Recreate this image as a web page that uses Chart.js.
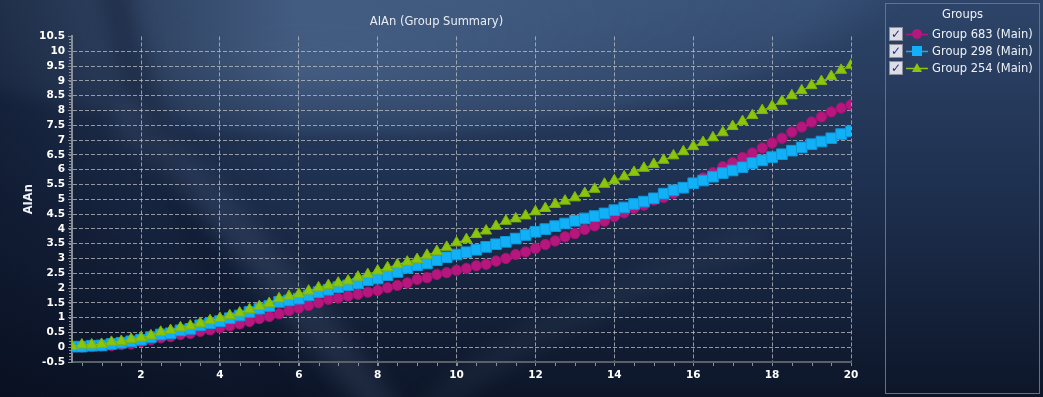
<!DOCTYPE html>
<html>
<head>
<meta charset="utf-8">
<script src="https://cdn.jsdelivr.net/npm/chart.js@4.4.0/dist/chart.umd.min.js"></script>
<style>
html, body { margin:0; padding:0; width:1043px; height:397px; overflow:hidden; background:#16233d; }
#contenedor { position:relative; width:1043px; height:397px; }
#myChart { position:absolute; left:0; top:0; }
#leyenda { position:absolute; left:885px; top:3px; width:153px; height:389px; border:1px solid #6b7079;
  font-family:"DejaVu Sans", sans-serif; font-size:11.5px; color:#eef2f8; }
#leyenda .titulo { text-align:center; padding-top:3px; height:14px; line-height:14px; margin-bottom:4px; }
#leyenda .fila { height:17px; display:flex; align-items:center; }
#leyenda .caja { width:12px; height:12px; margin-left:3px; background:#dcdde6; border:1px solid #8c8e9c;
  color:#262b7e; font-size:12px; font-weight:bold; line-height:12px; text-align:center; }
#leyenda svg { margin-left:3px; }
#leyenda .texto { margin-left:4px; white-space:nowrap; }
</style>
</head>
<body>
<div id="contenedor">
  <canvas id="myChart" width="1043" height="397"></canvas>
  <div id="leyenda">
    <div class="titulo">Groups</div>
    <div id="filas"></div>
  </div>
</div>
<script>
//-----------------DATOS------------------
var xs = [0.25, 0.5, 0.75, 1, 1.25, 1.5, 1.75, 2, 2.25, 2.5, 2.75, 3, 3.25, 3.5, 3.75, 4,
          4.25, 4.5, 4.75, 5, 5.25, 5.5, 5.75, 6, 6.25, 6.5, 6.75, 7, 7.25, 7.5, 7.75, 8,
          8.25, 8.5, 8.75, 9, 9.25, 9.5, 9.75, 10, 10.25, 10.5, 10.75, 11, 11.25, 11.5, 11.75, 12,
          12.25, 12.5, 12.75, 13, 13.25, 13.5, 13.75, 14, 14.25, 14.5, 14.75, 15, 15.25, 15.5, 15.75, 16,
          16.25, 16.5, 16.75, 17, 17.25, 17.5, 17.75, 18, 18.25, 18.5, 18.75, 19, 19.25, 19.5, 19.75, 20];

var grupo683 = [0.00, 0.01, 0.02, 0.04, 0.06, 0.09, 0.11, 0.19, 0.25, 0.32, 0.36, 0.43, 0.47, 0.54, 0.59, 0.66,
                0.72, 0.79, 0.87, 0.97, 1.04, 1.13, 1.24, 1.32, 1.41, 1.50, 1.62, 1.66, 1.73, 1.79, 1.86, 1.92,
                2.01, 2.09, 2.17, 2.29, 2.35, 2.46, 2.52, 2.60, 2.66, 2.75, 2.80, 2.91, 3.00, 3.13, 3.22, 3.34,
                3.47, 3.59, 3.73, 3.84, 3.98, 4.10, 4.26, 4.41, 4.54, 4.69, 4.80, 4.97, 5.06, 5.20, 5.36, 5.54,
                5.72, 5.90, 6.10, 6.24, 6.41, 6.56, 6.73, 6.90, 7.06, 7.27, 7.44, 7.61, 7.78, 7.95, 8.08, 8.19];

var grupo298 = [0.02, 0.02, 0.05, 0.06, 0.11, 0.15, 0.20, 0.25, 0.34, 0.43, 0.47, 0.57, 0.62, 0.74, 0.81, 0.88,
                0.98, 1.07, 1.19, 1.30, 1.39, 1.53, 1.58, 1.64, 1.75, 1.86, 1.94, 2.03, 2.09, 2.15, 2.26, 2.32,
                2.43, 2.54, 2.68, 2.77, 2.83, 2.94, 3.04, 3.13, 3.21, 3.29, 3.39, 3.48, 3.56, 3.67, 3.79, 3.90,
                3.99, 4.09, 4.18, 4.27, 4.35, 4.43, 4.52, 4.63, 4.72, 4.84, 4.92, 5.03, 5.19, 5.30, 5.39, 5.54,
                5.63, 5.76, 5.88, 5.97, 6.08, 6.22, 6.31, 6.42, 6.52, 6.64, 6.75, 6.86, 6.95, 7.06, 7.20, 7.29];

var grupo254 = [0.03, 0.08, 0.08, 0.10, 0.17, 0.20, 0.27, 0.32, 0.39, 0.51, 0.57, 0.66, 0.72, 0.81, 0.90, 0.98,
                1.07, 1.16, 1.27, 1.38, 1.48, 1.64, 1.72, 1.79, 1.90, 2.01, 2.09, 2.17, 2.24, 2.37, 2.46, 2.58,
                2.69, 2.79, 2.88, 2.97, 3.11, 3.24, 3.38, 3.53, 3.64, 3.81, 3.93, 4.09, 4.26, 4.34, 4.44, 4.58,
                4.69, 4.83, 4.94, 5.05, 5.20, 5.34, 5.51, 5.63, 5.76, 5.91, 6.05, 6.18, 6.32, 6.47, 6.61, 6.78,
                6.92, 7.08, 7.25, 7.46, 7.63, 7.83, 8.00, 8.14, 8.31, 8.50, 8.67, 8.84, 8.98, 9.15, 9.36, 9.53];

var ticksX = [2, 4, 6, 8, 10, 12, 14, 16, 18, 20];
var ticksY = [-0.5, 0, 0.5, 1, 1.5, 2, 2.5, 3, 3.5, 4, 4.5, 5, 5.5, 6, 6.5, 7, 7.5, 8, 8.5, 9, 9.5, 10, 10.5];

var nombres = ['Group 683 (Main)', 'Group 298 (Main)', 'Group 254 (Main)'];
var colores = ['#b5177f', '#12b1f7', '#8cc60c'];
var bordes = ['#a3126f', '#0c98dc', '#7db50a'];
var formas = ['circle', 'rect', 'triangle'];

var fuente = '"DejaVu Sans", sans-serif';

//-----------------FUNCIONES------------------
function puntos(valores) {
    return xs.map(function (x, i) { return {x: x, y: valores[i]}; });
}

function crear_leyenda() {
    var filas = document.getElementById('filas');
    for (var i = 0; i < nombres.length; i++) {
        var fila = document.createElement('div');
        fila.className = 'fila';
        var marca;
        if (formas[i] == 'circle') {
            marca = '<circle cx="11" cy="6" r="5" fill="' + colores[i] + '"/>';
        } else if (formas[i] == 'rect') {
            marca = '<rect x="6" y="1" width="10" height="10" fill="' + colores[i] + '"/>';
        } else {
            marca = '<polygon points="11,1 16,10 6,10" fill="' + colores[i] + '"/>';
        }
        fila.innerHTML = '<span class="caja">&#10003;</span>' +
            '<svg width="22" height="12"><line x1="0" y1="6.5" x2="22" y2="6.5" stroke="' + colores[i] +
            '" stroke-width="1.5"/>' + marca + '</svg>' +
            '<span class="texto">' + nombres[i] + '</span>';
        filas.appendChild(fila);
    }
}

// fondo azul con curvas
var fondo = {
    id: 'fondo',
    beforeDraw: function (chart) {
        var ctx = chart.ctx, w = chart.width, h = chart.height;
        ctx.save();
        var g = ctx.createLinearGradient(0, 0, 0, h);
        g.addColorStop(0, '#2e4569');
        g.addColorStop(0.45, '#1f3151');
        g.addColorStop(1, '#0d1629');
        ctx.fillStyle = g;
        ctx.fillRect(0, 0, w, h);

        // elipse clara arriba
        ctx.save();
        ctx.filter = 'blur(6px)';
        ctx.translate(360, -40);
        ctx.scale(1, 0.32);
        var r = ctx.createRadialGradient(-60, 350, 0, 0, 0, 560);
        r.addColorStop(0, 'rgba(110,140,180,0.40)');
        r.addColorStop(0.85, 'rgba(90,120,160,0.22)');
        r.addColorStop(1, 'rgba(90,120,160,0)');
        ctx.fillStyle = r;
        ctx.beginPath();
        ctx.arc(0, 0, 560, 0, Math.PI * 2);
        ctx.fill();
        ctx.restore();

        // oscuro a la izquierda
        var g2 = ctx.createLinearGradient(0, 0, 300, 0);
        g2.addColorStop(0, 'rgba(5,10,26,0.50)');
        g2.addColorStop(1, 'rgba(5,10,26,0)');
        ctx.fillStyle = g2;
        ctx.fillRect(0, 0, w, h);

        ctx.filter = 'blur(10px)';
        // banda oscura curva
        ctx.beginPath();
        ctx.moveTo(112, -20);
        ctx.quadraticCurveTo(150, 180, 300, 420);
        ctx.lineWidth = 30;
        ctx.strokeStyle = 'rgba(6,14,34,0.30)';
        ctx.stroke();
        // franja clara diagonal
        ctx.beginPath();
        ctx.moveTo(120, 110);
        ctx.quadraticCurveTo(250, 230, 390, 420);
        ctx.lineWidth = 34;
        ctx.strokeStyle = 'rgba(150,175,210,0.12)';
        ctx.stroke();
        // curva clara abajo a la derecha
        ctx.beginPath();
        ctx.moveTo(420, 420);
        ctx.quadraticCurveTo(520, 320, 760, 240);
        ctx.lineWidth = 26;
        ctx.strokeStyle = 'rgba(140,165,200,0.07)';
        ctx.stroke();
        ctx.restore();
    }
};

// marcas menores de los ejes
var marcasMenores = {
    id: 'marcasMenores',
    afterDraw: function (chart) {
        var ctx = chart.ctx, x = chart.scales.x, y = chart.scales.y;
        ctx.save();
        ctx.strokeStyle = '#8a8e96';
        ctx.lineWidth = 1;
        ctx.beginPath();
        for (var v = -5; v <= 105; v++) {
            var py = Math.round(y.getPixelForValue(v / 10)) + 0.5;
            ctx.moveTo(x.left - 3, py);
            ctx.lineTo(x.left - 1, py);
        }
        for (var k = 1; k <= 40; k++) {
            var px = Math.round(x.getPixelForValue(k / 2)) + 0.5;
            ctx.moveTo(px, y.bottom + 1);
            ctx.lineTo(px, y.bottom + 4);
        }
        ctx.stroke();
        ctx.restore();
    }
};

function serie(i, valores, radio) {
    return {
        label: nombres[i],
        data: puntos(valores),
        borderColor: colores[i],
        backgroundColor: colores[i],
        pointBackgroundColor: colores[i],
        pointBorderColor: bordes[i],
        pointBorderWidth: 1,
        borderWidth: 1,
        pointStyle: formas[i],
        pointRadius: radio,
        tension: 0,
        order: 3 - i
    };
}

function etiqueta(valor) {
    return String(valor);
}

function create_chart() {
    var ctx = document.getElementById('myChart').getContext('2d');
    return new Chart(ctx, {
        type: 'line',
        data: {
            datasets: [
                serie(0, grupo683, 5.2),
                serie(1, grupo298, 7.5),
                serie(2, grupo254, 6.3)
            ]
        },
        options: {
            responsive: false,
            animation: false,
            layout: { padding: { left: 22, right: 192, top: 0, bottom: 0 } },
            plugins: {
                legend: { display: false },
                tooltip: { enabled: false },
                title: {
                    display: true,
                    text: 'AIAn (Group Summary)',
                    color: '#e8edf5',
                    font: { family: fuente, size: 11.5, weight: 'normal' },
                    padding: { top: 15, bottom: 7.6 }
                }
            },
            scales: {
                x: {
                    type: 'linear',
                    min: 0.25,
                    max: 20,
                    afterBuildTicks: function (s) { s.ticks = ticksX.map(function (v) { return {value: v}; }); },
                    afterFit: function (s) { s.height = 35; },
                    ticks: { color: '#ffffff', font: { family: fuente, size: 10.5, weight: 'bold' }, padding: 3,
                             autoSkip: false, maxRotation: 0, callback: etiqueta },
                    grid: { color: 'rgba(190,192,198,0.75)', lineWidth: 1, tickLength: 4, tickColor: '#8a8e96' },
                    border: { display: true, color: '#5b6068', width: 2, dash: [4, 2] }
                },
                y: {
                    min: -0.5,
                    max: 10.5,
                    afterBuildTicks: function (s) { s.ticks = ticksY.map(function (v) { return {value: v}; }); },
                    afterFit: function (s) { s.width = 50; },
                    ticks: { color: '#ffffff', font: { family: fuente, size: 10.5, weight: 'bold' }, padding: 3,
                             autoSkip: false, callback: etiqueta },
                    grid: {
                        color: function (c) {
                            if (c.tick && (c.tick.value == 10.5 || c.tick.value == -0.5)) return 'rgba(0,0,0,0)';
                            return 'rgba(190,192,198,0.75)';
                        },
                        lineWidth: 1, tickLength: 4, tickColor: '#8a8e96'
                    },
                    border: { display: true, color: '#8a8e96', width: 2, dash: [4, 2] },
                    title: { display: true, text: 'AIAn', color: '#eef2f8', font: { family: fuente, size: 11.5, weight: 'bold' }, padding: 0 }
                }
            }
        },
        plugins: [fondo, marcasMenores]
    });
}

//-----------------INICIO------------------
crear_leyenda();
var myChart = create_chart();
</script>
</body>
</html>
